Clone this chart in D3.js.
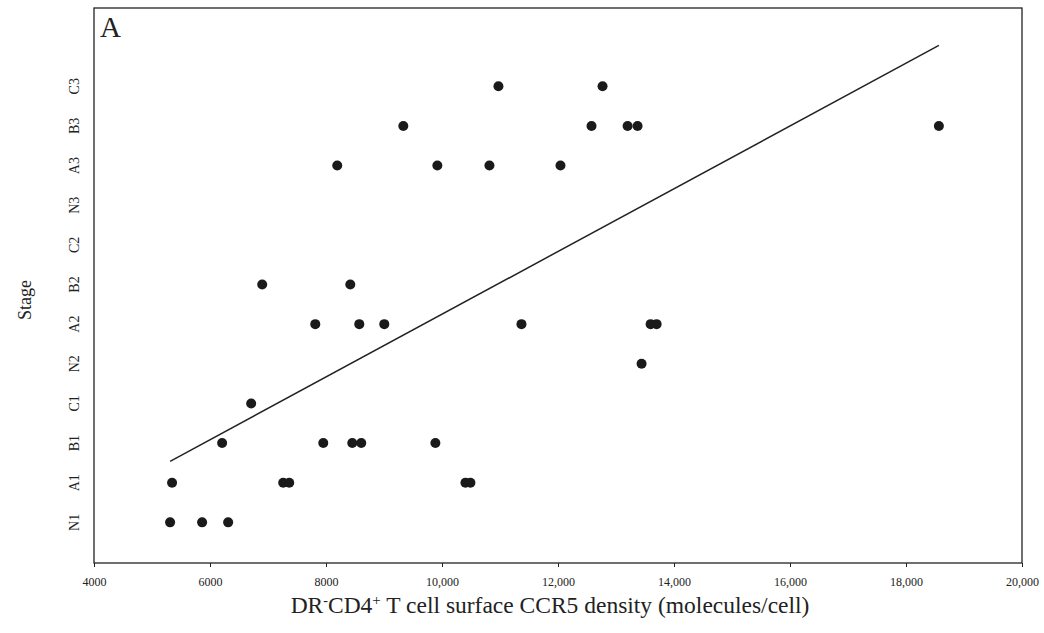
<!DOCTYPE html>
<html>
<head>
<meta charset="utf-8">
<script src="https://cdn.jsdelivr.net/npm/d3@7"></script>
<style>
  body { margin: 0; background: #fff; }
  text { font-family: "Liberation Serif", "DejaVu Serif", serif; fill: #222; }
</style>
</head>
<body>
<div id="chart"></div>
<script>
//-------------------------------------
// data
//-------------------------------------
var stages = ["N1", "A1", "B1", "C1", "N2", "A2", "B2", "C2", "N3", "A3", "B3", "C3"];

// CCR5 density per stage (molecules/cell)
var pointStage = [
	"N1", "N1", "N1",
	"A1", "A1", "A1", "A1", "A1",
	"B1", "B1", "B1", "B1", "B1",
	"C1",
	"N2",
	"A2", "A2", "A2", "A2", "A2", "A2",
	"B2", "B2",
	"A3", "A3", "A3", "A3",
	"B3", "B3", "B3", "B3", "B3",
	"C3", "C3"
];
var pointDensity = [
	5312, 5864, 6313,
	5346, 7262, 7366, 10404, 10490,
	6209, 7953, 8453, 8608, 9886,
	6710,
	13441,
	7815, 8574, 9005, 11370, 13597, 13700,
	6900, 8419,
	8194, 9920, 10818, 12043,
	9333, 12578, 13200, 13372, 18567,
	10973, 12768
];

// fitted line (x in density, y in stage index)
var fitX = [5312, 18567];
var fitY = [1.54, 12.03];

var xTicks = [4000, 6000, 8000, 10000, 12000, 14000, 16000, 18000, 20000];

//-------------------------------------
// field
//-------------------------------------
var width = 1044;
var height = 633;
var plotLeft = 94, plotRight = 1022, plotTop = 8, plotBottom = 563;

var svg = d3.select("#chart")
	.append("svg")
	.attr("width", width)
	.attr("height", height);

var x = d3.scaleLinear().domain([4000, 20000]).range([plotLeft, plotRight]);
var y = d3.scaleLinear().domain([-1, 13]).range([562, 7]);

// frame
svg.append("rect")
	.attr("x", plotLeft)
	.attr("y", plotTop)
	.attr("width", plotRight - plotLeft)
	.attr("height", plotBottom - plotTop)
	.style("fill", "none")
	.style("stroke", "#222")
	.style("stroke-width", 1.3);

// x axis
var xAxis = d3.axisBottom(x)
	.tickValues(xTicks)
	.tickSize(4)
	.tickFormat(function(d) {
		return d >= 10000 ? d3.format(",")(d) : String(d);
	});

var gx = svg.append("g")
	.attr("transform", "translate(0," + plotBottom + ")")
	.call(xAxis);
gx.select(".domain").remove();
gx.selectAll("line").style("stroke", "#222");
gx.selectAll("text")
	.attr("dy", "1.35em")
	.style("font-size", "12px")
	.style("font-family", "'Liberation Serif', serif");

// y axis labels (rotated)
svg.append("g")
	.selectAll("text")
	.data(stages)
	.enter()
	.append("text")
	.attr("transform", function(d, i) {
		return "translate(79," + y(i) + ") rotate(-90)";
	})
	.attr("text-anchor", "middle")
	.style("font-size", "14px")
	.text(function(d) { return d; });

// titles
svg.append("text")
	.attr("transform", "translate(31,300) rotate(-90)")
	.attr("text-anchor", "middle")
	.style("font-size", "18px")
	.text("Stage");

var xt = svg.append("text")
	.attr("x", 550)
	.attr("y", 613)
	.attr("text-anchor", "middle")
	.style("font-size", "23.5px");
xt.append("tspan").text("DR");
xt.append("tspan").attr("dy", -8).style("font-size", "14px").text("-");
xt.append("tspan").attr("dy", 8).text("CD4");
xt.append("tspan").attr("dy", -8).style("font-size", "15px").text("+");
xt.append("tspan").attr("dy", 8).text(" T cell surface CCR5 density (molecules/cell)");

svg.append("text")
	.attr("x", 100)
	.attr("y", 37)
	.style("font-size", "29px")
	.text("A");

// fit line
svg.append("line")
	.attr("x1", x(fitX[0]))
	.attr("y1", y(fitY[0]))
	.attr("x2", x(fitX[1]))
	.attr("y2", y(fitY[1]))
	.style("stroke", "#222")
	.style("stroke-width", 1.5);

// dots
svg.append("g")
	.selectAll("circle")
	.data(pointDensity)
	.enter()
	.append("circle")
	.attr("r", 5)
	.attr("cx", function(d) { return x(d); })
	.attr("cy", function(d, i) { return y(stages.indexOf(pointStage[i])); })
	.style("fill", "#1a1a1a");
</script>
</body>
</html>
